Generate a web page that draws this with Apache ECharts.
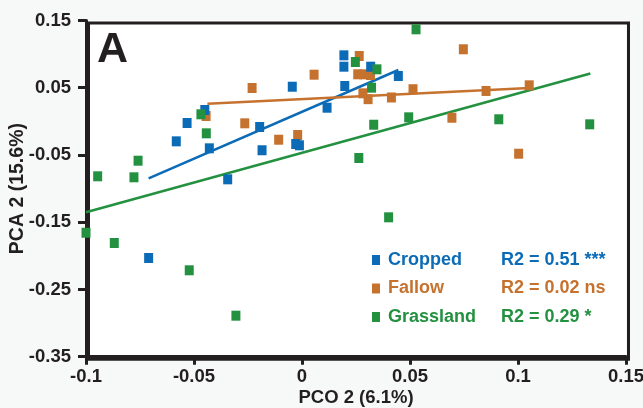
<!DOCTYPE html>
<html>
<head>
<meta charset="utf-8">
<script src="https://cdn.jsdelivr.net/npm/echarts@6/dist/echarts.min.js"></script>
<style>
html,body{margin:0;padding:0;background:#f6f9f7;}
#c{width:643px;height:408px;}
</style>
</head>
<body>
<div id="c"></div>
<script>
// ---- data (PCO 2, PCA 2) ----
const cropped = [
  [0.0194, 0.0982], [0.0194, 0.0813], [0.0318, 0.0813], [0.0446, 0.0675],
  [0.0198, 0.0526], [-0.0045, 0.0515], [0.0116, 0.0203], [-0.0450, 0.0169],
  [-0.0532, -0.0024], [-0.0196, -0.0084], [-0.0582, -0.0297], [-0.0429, -0.0401],
  [-0.0185, -0.0430], [-0.0029, -0.0337], [-0.0012, -0.0356], [-0.0344, -0.0862],
  [-0.0710, -0.2032]
];
const fallow = [
  [0.0265, 0.0972], [0.0056, 0.0694], [0.0258, 0.0700], [0.0287, 0.0700],
  [0.0317, 0.0689], [-0.0231, 0.0496], [0.0282, 0.0417], [0.0306, 0.0330],
  [0.0414, 0.0355], [0.0514, 0.0478], [-0.0444, 0.0080], [-0.0265, -0.0029],
  [-0.0108, -0.0273], [-0.0020, -0.0203], [0.0747, 0.1072], [0.0852, 0.0452],
  [0.1052, 0.0536], [0.0694, 0.0054], [0.1003, -0.0481]
];
const grassland = [
  [0.0528, 0.1369], [0.0247, 0.0883], [0.0347, 0.0774], [0.0322, 0.0501],
  [-0.0468, 0.0105], [-0.0443, -0.0178], [0.0332, -0.0050], [0.0494, 0.0060],
  [0.0263, -0.0545], [0.0911, 0.0031], [0.1332, -0.0044], [-0.0759, -0.0585],
  [-0.0946, -0.0817], [-0.0778, -0.0832], [-0.1000, -0.1656], [-0.0869, -0.1809],
  [-0.0522, -0.2215], [0.0401, -0.1427], [-0.0306, -0.2890]
];
// regression line endpoints
const croppedFit = [[-0.0710, -0.0847], [0.0446, 0.0764]];
const fallowFit = [[-0.0438, 0.0263], [0.1052, 0.0496]];
const grasslandFit = [[-0.1000, -0.1352], [0.1335, 0.0712]];
// labels
const seriesNames = ['Cropped', 'Fallow', 'Grassland'];
const r2Labels = ['R2 = 0.51 ***', 'R2 = 0.02 ns', 'R2 = 0.29 *'];
const xTicks = [-0.1, -0.05, 0, 0.05, 0.1, 0.15];
const yTicks = [-0.35, -0.25, -0.15, -0.05, 0.05, 0.15];
const xTickLabels = ['-0.1', '-0.05', '0', '0.05', '0.1', '0.15'];
const yTickLabels = ['-0.35', '-0.25', '-0.15', '-0.05', '0.05', '0.15'];

const colors = ['#0b6bb6', '#c6722f', '#249140'];
const FONT = 'Liberation Sans, Arial, sans-serif';
const axisColor = '#231f20';

const chart = echarts.init(document.getElementById('c'), null, {renderer: 'canvas'});

function scatter(name, data, color, z) {
  return {
    name: name, type: 'scatter', data: data, symbol: 'rect', symbolSize: [9, 10],
    itemStyle: {color: color, opacity: 1}, z: z, emphasis: {disabled: true}
  };
}
function fit(data, color) {
  return {
    type: 'line', data: data, showSymbol: false, symbol: 'none',
    lineStyle: {color: color, width: 2.5}, z: 1, silent: true
  };
}

const option = {
  backgroundColor: '#f6f9f7',
  animation: false,
  grid: {left: 86, right: 17, top: 20.5, bottom: 51.3, show: true, backgroundColor: '#ffffff', borderWidth: 0,
         containLabel: false, outerBoundsMode: 'none'},
  xAxis: {
    type: 'value', min: -0.1, max: 0.15,
    name: 'PCO 2 (6.1%)', nameLocation: 'middle', nameGap: 32, nameMoveOverlap: false,
    nameTextStyle: {fontFamily: FONT, fontWeight: 'bold', fontSize: 18.5, color: axisColor},
    axisLine: {show: true, onZero: false, lineStyle: {color: axisColor, width: 3}},
    axisTick: {show: true, length: 8, lineStyle: {color: axisColor, width: 3}, customValues: xTicks},
    axisLabel: {
      fontFamily: FONT, fontWeight: 'bold', fontSize: 18.5, color: axisColor, margin: 11,
      customValues: xTicks,
      formatter: function (v) { const i = xTicks.findIndex(t => Math.abs(t - v) < 1e-9); return i >= 0 ? xTickLabels[i] : ''; }
    },
    splitLine: {show: false}
  },
  yAxis: {
    type: 'value', min: -0.35, max: 0.15,
    name: 'PCA 2 (15.6%)', nameLocation: 'middle', nameGap: 58, nameRotate: 90, nameMoveOverlap: false,
    nameTextStyle: {fontFamily: FONT, fontWeight: 'bold', fontSize: 19.5, color: axisColor},
    axisLine: {show: true, onZero: false, lineStyle: {color: axisColor, width: 3}},
    axisTick: {show: true, length: 8, lineStyle: {color: axisColor, width: 3}, customValues: yTicks},
    axisLabel: {
      fontFamily: FONT, fontWeight: 'bold', fontSize: 18.5, color: axisColor, margin: 15,
      customValues: yTicks,
      formatter: function (v) { const i = yTicks.findIndex(t => Math.abs(t - v) < 1e-9); return i >= 0 ? yTickLabels[i] : ''; }
    },
    splitLine: {show: false}
  },
  legend: {
    orient: 'vertical', left: 372, top: 251, padding: 0, itemWidth: 8, itemHeight: 10, itemGap: 10.5,
    icon: 'rect', selectedMode: false,
    textStyle: {fontFamily: FONT, fontWeight: 'bold', fontSize: 18, padding: [0, 0, 0, 3]},
    data: seriesNames.map((n, i) => ({name: n, textStyle: {color: colors[i]}}))
  },
  graphic: [
    {type: 'rect', left: 86, top: 20.5, shape: {width: 540, height: 336.2}, style: {fill: 'none', stroke: axisColor, lineWidth: 3}, z: 0, silent: true},
    {type: 'text', left: 97, top: 29, style: {text: 'A', font: 'bold 43px ' + FONT, fill: axisColor}},
    {type: 'text', left: 501, top: 251, style: {text: r2Labels[0], font: 'bold 18px ' + FONT, fill: colors[0]}},
    {type: 'text', left: 501, top: 279.5, style: {text: r2Labels[1], font: 'bold 18px ' + FONT, fill: colors[1]}},
    {type: 'text', left: 501, top: 308, style: {text: r2Labels[2], font: 'bold 18px ' + FONT, fill: colors[2]}}
  ],
  series: [
    fit(croppedFit, colors[0]),
    fit(fallowFit, colors[1]),
    fit(grasslandFit, colors[2]),
    scatter(seriesNames[1], fallow, colors[1], 3),
    scatter(seriesNames[0], cropped, colors[0], 4),
    scatter(seriesNames[2], grassland, colors[2], 5)
  ]
};
chart.setOption(option);
</script>
</body>
</html>
